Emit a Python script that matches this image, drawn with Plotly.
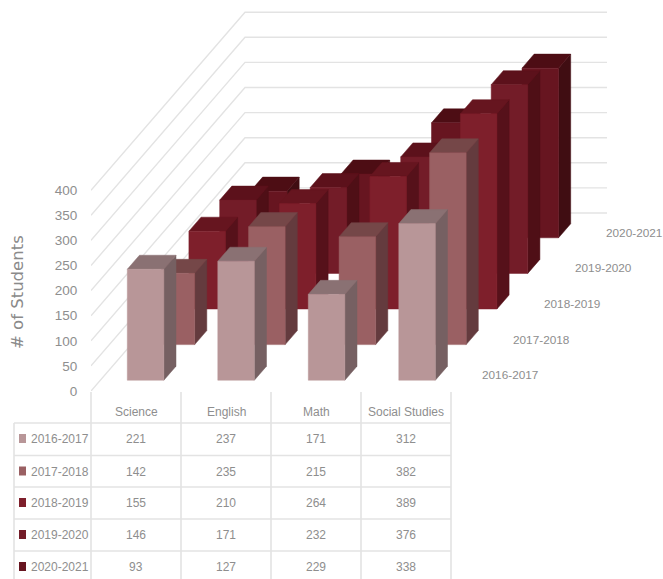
import plotly.graph_objects as go

subjects = ["Science", "English", "Math", "Social Studies"]
years = ["2016-2017", "2017-2018", "2018-2019", "2019-2020", "2020-2021"]
v_2016 = [221, 237, 171, 312]
v_2017 = [142, 235, 215, 382]
v_2018 = [155, 210, 264, 389]
v_2019 = [146, 171, 232, 376]
v_2020 = [93, 127, 229, 338]
series = [v_2016, v_2017, v_2018, v_2019, v_2020]
y_ticks = [0, 50, 100, 150, 200, 250, 300, 350, 400]

front = ["#B89698", "#9A6063", "#7E1F2B", "#731C28", "#671520"]
top = ["#8A7173", "#754748", "#66151F", "#5C111B", "#4D0D14"]
side = ["#766062", "#643B3E", "#56111A", "#4F0F16", "#400D12"]

W, H = 663, 579
X0, Y0 = 91, 391            # pixel position of the floor's front-left corner
PX_CAT, PX_VAL = 90.5, 0.502
DEPTH_X, DEPTH_Y = 30.8 / PX_CAT, 35.6 / PX_VAL   # oblique shift per series slot
GRID = "#E3E3E3"
TXT = "#8E8E8E"
FONT = "Liberation Sans, Arial, sans-serif"
FS = 12


def proj(cat, val, depth):
    return cat + depth * DEPTH_X, val + depth * DEPTH_Y


def poly(fig, pts, color):
    xs, ys = zip(*pts)
    fig.add_trace(go.Scatter(x=list(xs) + [xs[0]], y=list(ys) + [ys[0]], mode="lines", fill="toself",
                             fillcolor=color, line=dict(width=0.5, color=color), hoverinfo="skip",
                             showlegend=False))


fig = go.Figure()

# walls
for v in y_ticks:
    a = proj(0, v, 0)
    b = proj(0, v, 5)
    c = proj(4, v, 5)
    fig.add_trace(go.Scatter(x=[a[0], b[0], c[0]], y=[a[1], b[1], c[1]], mode="lines",
                             line=dict(color=GRID, width=1.4), hoverinfo="skip", showlegend=False))

# bars, back to front
L, R = 0.298, 0.702
F, B = 0.303, 0.697
for s in range(4, -1, -1):
    for c, val in enumerate(series[s]):
        x1, x2 = c + L, c + R
        d1, d2 = s + F, s + B
        poly(fig, [proj(x2, 0, d1), proj(x2, 0, d2), proj(x2, val, d2), proj(x2, val, d1)], side[s])
        poly(fig, [proj(x1, val, d1), proj(x2, val, d1), proj(x2, val, d2), proj(x1, val, d2)], top[s])
        poly(fig, [proj(x1, 0, d1), proj(x2, 0, d1), proj(x2, val, d1), proj(x1, val, d1)], front[s])

# depth axis labels
for s, yr in enumerate(years):
    x, y = proj(4, -4, s + 0.5)
    fig.add_annotation(x=x, y=y, xref="x", yref="y", text=yr, showarrow=False, xanchor="left", yanchor="middle",
                       xshift=12, font=dict(family=FONT, size=11.8, color=TXT))


def px(x):
    return x / W


def py(y):
    return 1 - y / H


# data table
col_x = [91, 181, 271, 361, 451]
row_y = [423, 455.5, 487, 519, 551]
shapes = []
for i, x in enumerate(col_x):
    shapes.append(dict(type="line", xref="paper", yref="paper", x0=px(x), x1=px(x), y0=py(392), y1=py(579),
                       line=dict(color=GRID, width=1.6)))
shapes.append(dict(type="line", xref="paper", yref="paper", x0=px(14), x1=px(14), y0=py(423), y1=py(579),
                   line=dict(color=GRID, width=1.6)))
for y in row_y:
    shapes.append(dict(type="line", xref="paper", yref="paper", x0=px(14), x1=px(451), y0=py(y), y1=py(y),
                       line=dict(color=GRID, width=1.6)))

anns = []
for c, name in enumerate(subjects):
    anns.append(dict(x=px(136 + 90 * c), y=py(412), text=name, xanchor="center"))
for s, yr in enumerate(years):
    yc = row_y[s] + 16
    anns.append(dict(x=px(29), y=py(yc), text=yr, xanchor="left"))
    shapes.append(dict(type="rect", xref="paper", yref="paper", x0=px(19), x1=px(26), y0=py(yc - 5), y1=py(yc + 4),
                       fillcolor=front[s], line=dict(width=0)))
    for c, val in enumerate(series[s]):
        anns.append(dict(x=px(136 + 90 * c), y=py(yc), text=str(val), xanchor="center"))
for a in anns:
    fig.add_annotation(xref="paper", yref="paper", showarrow=False, yanchor="middle",
                       font=dict(family=FONT, size=FS, color=TXT), **a)

fig.add_annotation(xref="paper", yref="paper", x=px(17), y=py(292), text="# of Students", textangle=-90,
                   showarrow=False, xanchor="center", yanchor="middle",
                   font=dict(family="DejaVu Sans, sans-serif", size=16.5, color="#8A8A8A"))

fig.update_layout(
    width=W, height=587, margin=dict(l=0, r=0, t=0, b=0), paper_bgcolor="white", plot_bgcolor="white",
    shapes=shapes, showlegend=False,
    xaxis=dict(domain=[X0 / W, 1], range=[0, (W - X0) / PX_CAT], visible=False),
    yaxis=dict(domain=[(H - Y0) / H, 1], range=[0, Y0 / PX_VAL], tickvals=y_ticks, showgrid=False, zeroline=False,
               showline=False, ticks="outside", ticklen=10, tickcolor="rgba(255,255,255,0)",
               tickfont=dict(family=FONT, size=13.5, color=TXT)),
)
fig.write_html("out.html", post_script="document.body.style.margin='0';", config=dict(displayModeBar=False))
